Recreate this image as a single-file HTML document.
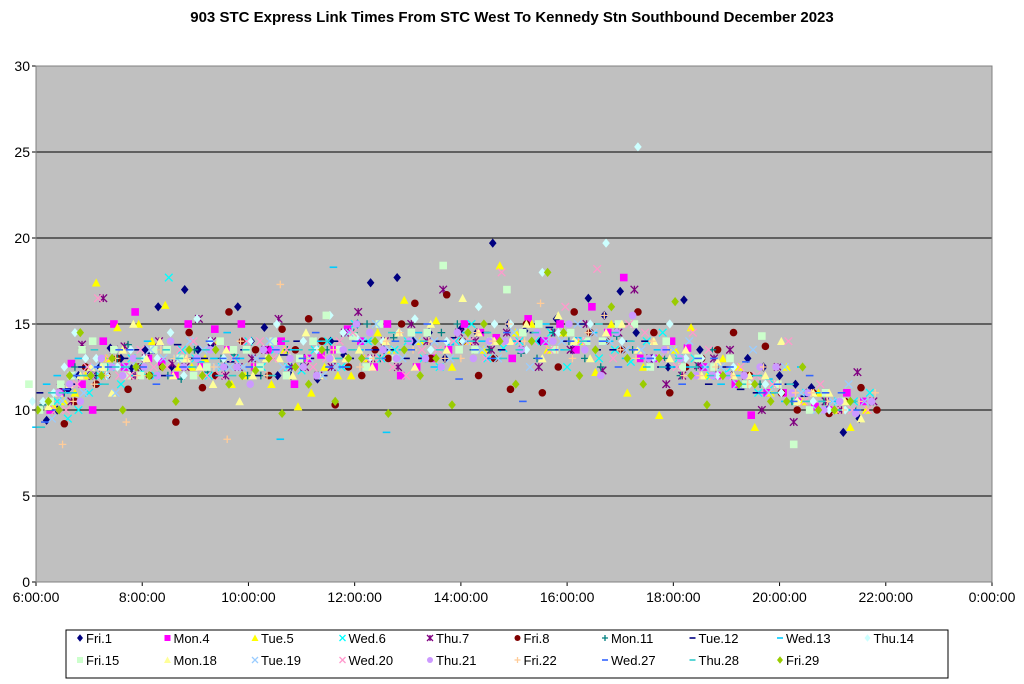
<!DOCTYPE html>
<html><head><meta charset="utf-8"><style>
body{margin:0;background:#fff;font-family:"Liberation Sans",Arial,sans-serif}
svg{display:block}
</style></head><body>
<svg id="c" width="1024" height="684" xmlns="http://www.w3.org/2000/svg">
<text x="512" y="22" text-anchor="middle" font-size="15" font-weight="bold">903 STC Express Link Times From STC West To Kennedy Stn Southbound December 2023</text>
<rect x="36" y="66" width="956" height="516" fill="#c0c0c0"/>
<g id="grid"></g><g id="marks"></g><g id="axes"></g>
<rect x="66" y="630" width="882" height="48" fill="#fff" stroke="#000" stroke-width="1"/>
<g id="legend"></g>
</svg>
<script>
const yTicks=[0,5,10,15,20,25,30];
const xTickLabels=["6:00:00","8:00:00","10:00:00","12:00:00","14:00:00","16:00:00","18:00:00","20:00:00","22:00:00","0:00:00"];
const xTickHours=[6,8,10,12,14,16,18,20,22,24];
const tripTimes=[6.2,6.6,7.0,7.4,7.8,8.3,8.8,9.3,9.8,10.3,10.8,11.3,11.8,12.3,12.8,13.4,14.0,14.6,15.2,15.8,16.4,17.0,17.6,18.2,18.8,19.4,20.0,20.6,21.2];
const tripTimesB=[6.4,6.8,7.2,7.6,8.05,8.55,9.05,9.55,10.05,10.55,11.05,11.55,12.05,12.55,13.1,13.7,14.3,14.9,15.5,16.1,16.7,17.3,17.9,18.5,19.1,19.7,20.3,20.9,21.5];
const seriesNames=["Fri.1","Mon.4","Tue.5","Wed.6","Thu.7","Fri.8","Mon.11","Tue.12","Wed.13","Thu.14","Fri.15","Mon.18","Tue.19","Wed.20","Thu.21","Fri.22","Wed.27","Thu.28","Fri.29"];
const offsetsMin=[0,4,8,12,16,20,-4,-8,-12,-16,-20,2,6,10,14,18,-2,-6,-10];
const v0=[9.4,11.2,12.0,13.6,12.4,16.0,17.0,13.8,16.0,14.8,12.0,11.8,13.2,17.4,17.7,14.5,14.7,19.7,14.6,15.3,16.5,16.9,13.0,16.4,12.5,13.0,12.0,11.3,8.7];
const v1=[10.0,12.7,10.0,15.0,15.7,12.8,15.0,14.7,15.0,13.5,11.5,13.2,14.7,12.5,12.0,13.0,15.0,14.2,15.3,15.0,16.0,17.7,13.0,13.6,12.0,9.7,11.0,10.2,11.0];
const v2=[10.2,11.0,17.4,14.8,15.0,16.1,12.5,14.0,12.0,11.5,10.2,12.5,12.0,14.5,16.4,15.2,14.0,18.4,15.0,14.5,12.2,11.0,9.7,14.8,13.0,9.0,12.5,11.0,9.0];
const v3=[10.5,10.0,12.0,11.5,12.2,17.7,13.0,12.5,14.0,13.5,12.3,14.0,15.0,13.0,14.0,12.5,15.0,13.6,14.0,12.5,13.0,12.8,14.5,13.0,12.2,11.0,10.5,10.0,10.5];
const v4=[11.3,13.8,16.5,13.7,13.0,12.7,15.3,12.0,13.0,15.3,12.5,12.5,15.7,14.0,15.0,17.0,14.0,14.5,12.5,13.5,12.3,17.0,11.5,12.6,13.5,10.0,9.3,10.5,12.2];
const v5=[9.2,12.5,12.0,11.2,12.0,9.3,11.3,15.7,13.5,14.7,15.3,10.3,12.0,13.0,16.2,16.7,12.0,11.2,11.0,15.7,14.0,15.7,11.0,13.0,14.5,13.7,10.0,9.8,11.3];
const v6=[10.3,11.0,13.0,12.5,13.8,13.5,11.8,12.2,13.2,12.0,13.5,14.0,13.5,15.0,14.2,13.0,15.0,13.5,13.3,14.5,13.0,14.3,12.5,12.0,13.5,12.0,11.5,11.0,10.5];
const v7=[11.0,11.5,12.5,12.0,13.0,13.3,13.8,13.0,12.8,12.0,13.2,13.0,14.0,14.0,13.5,13.0,14.2,14.5,14.0,14.8,15.0,13.5,14.0,12.5,11.5,11.2,11.0,10.8,10.0];
const v8=[9.0,12.0,13.0,11.5,12.5,14.0,13.0,12.8,14.5,12.5,8.3,13.0,18.3,13.5,8.7,14.5,13.8,14.0,14.0,15.0,14.2,14.0,13.0,12.5,12.5,12.0,11.8,12.5,10.5];
const v9=[10.5,11.0,14.5,13.0,12.5,13.0,14.5,15.3,13.0,14.0,15.0,14.0,15.5,14.2,14.0,15.3,14.0,16.0,15.0,18.0,14.0,19.7,25.3,15.0,13.0,12.5,11.5,10.5,10.0];
const v10=[11.5,10.5,12.0,14.0,13.5,12.0,13.5,12.0,14.0,13.5,14.0,13.0,15.5,14.3,15.0,14.5,18.4,13.5,17.0,15.0,14.5,14.0,15.0,14.0,13.0,13.0,14.3,8.0,11.0];
const v11=[10.2,11.5,12.5,11.0,15.0,14.0,13.0,11.5,10.5,13.0,12.0,12.0,13.0,12.5,14.5,15.0,16.5,14.0,15.0,15.5,13.0,15.0,14.0,13.5,12.8,12.0,14.0,11.0,10.5];
const v12=[9.5,12.0,12.5,11.0,12.5,13.0,14.0,12.5,12.5,14.0,12.5,12.0,14.5,15.0,13.0,14.0,14.0,13.0,12.5,14.0,14.5,13.5,13.0,14.0,12.5,13.5,12.5,10.0,11.5];
const v13=[10.0,11.5,16.5,12.0,13.5,12.5,14.0,12.0,14.0,13.0,12.5,13.0,14.5,13.0,12.0,13.5,14.0,18.0,14.0,16.0,18.2,15.0,13.0,14.5,12.0,12.0,14.0,11.5,10.0];
const v14=[11.0,10.5,13.0,12.0,12.5,14.0,13.0,12.5,11.5,13.5,12.5,13.0,15.0,13.5,14.0,12.5,13.0,14.0,14.5,15.0,12.0,15.5,13.5,12.0,12.0,12.5,11.0,10.0,9.8];
const v15=[8.0,12.0,12.0,9.3,12.0,13.0,12.0,8.3,12.5,17.3,13.0,13.5,12.5,14.0,13.5,13.0,14.5,15.0,16.2,13.0,15.5,13.0,13.5,12.0,12.0,12.5,11.0,10.5,10.5];
const v16=[9.3,11.2,12.0,12.5,13.5,11.5,12.5,14.0,13.0,13.0,12.5,14.5,12.5,13.5,14.0,15.0,11.8,13.0,10.5,13.5,14.0,12.5,13.0,11.5,13.0,12.8,11.5,12.0,11.0];
const v17=[9.0,11.0,12.0,11.5,12.5,12.0,13.0,13.5,12.0,12.5,14.0,13.5,13.0,13.0,14.5,14.0,13.0,14.5,13.5,13.5,14.0,14.5,12.5,13.0,12.0,11.5,11.0,10.5,10.0];
const v18=[10.0,10.0,14.5,12.0,10.0,12.0,10.5,12.0,11.5,12.3,9.8,11.5,10.5,13.0,9.8,12.0,10.3,15.0,11.5,18.0,12.0,16.0,11.5,16.3,10.3,11.5,10.5,12.5,10.0];
const w0=[10.0,12.0,12.5,13.0,13.5,12.5,13.5,12.5,14.0,12.0,13.0,14.0,15.0,13.5,14.0,13.0,14.5,15.0,14.0,13.5,15.5,14.5,12.5,13.5,12.0,12.5,11.5,10.0,9.5];
const w1=[11.0,11.5,14.0,12.5,13.0,12.0,12.5,13.5,12.5,14.0,13.0,13.5,14.0,15.0,12.5,13.5,14.5,13.0,14.0,13.5,14.5,13.0,14.0,12.5,11.5,11.0,10.5,10.0,10.5];
const w2=[10.5,12.0,13.0,12.0,14.0,12.5,13.0,11.5,12.5,13.5,11.0,12.0,13.0,13.5,14.0,12.5,13.5,14.5,13.5,14.0,15.0,12.5,13.5,12.0,12.5,11.0,10.5,10.0,10.0];
const w3=[9.5,11.0,12.5,13.0,12.0,13.5,12.0,13.0,12.5,12.5,13.5,12.5,14.0,13.5,13.0,14.0,13.0,14.0,14.5,14.0,13.5,14.0,13.0,12.0,11.5,11.5,11.0,10.5,11.0];
const w4=[10.5,12.0,13.5,12.0,14.0,12.5,14.0,12.5,13.5,12.5,12.0,14.5,13.0,12.5,14.0,14.5,13.5,13.5,14.5,15.0,14.5,13.0,12.0,13.0,12.0,12.5,11.0,10.0,10.5];
const w5=[10.5,11.5,13.0,12.5,12.5,14.5,12.0,14.0,12.0,13.5,14.0,12.5,13.5,15.0,13.0,14.0,13.0,15.0,12.5,14.5,13.5,14.5,12.5,13.5,12.0,11.0,11.0,10.5,10.0];
const w6=[11.0,12.5,12.0,13.0,12.5,12.0,13.5,13.0,12.0,14.0,12.5,13.5,14.5,13.0,14.0,14.5,13.5,14.0,13.0,14.0,12.5,13.5,13.0,12.5,12.0,11.5,10.5,10.5,10.0];
const w7=[10.0,11.5,12.0,12.5,13.5,12.0,13.0,12.0,13.5,13.0,14.0,12.0,13.0,13.5,13.0,14.0,14.0,13.5,14.5,14.0,13.5,14.0,12.5,12.0,12.5,11.0,11.5,10.0,10.5];
const w8=[11.5,11.0,12.5,13.0,12.0,13.5,12.5,13.0,13.0,12.0,13.5,14.0,12.5,14.0,13.5,12.5,14.5,13.0,14.0,13.5,14.5,13.0,13.5,12.5,11.5,12.0,10.5,11.0,10.0];
const w9=[10.5,12.5,13.0,12.0,13.5,13.0,12.0,14.0,12.5,13.5,13.0,13.5,14.5,13.0,14.5,13.5,14.0,15.0,13.5,14.5,15.0,14.0,13.0,13.0,12.0,11.5,11.0,10.5,10.0];
const w10=[10.0,11.5,13.5,12.5,12.0,13.5,13.0,12.5,13.5,12.5,12.0,14.0,13.5,12.5,13.0,14.5,13.5,14.0,14.5,13.5,14.0,15.0,12.5,12.5,12.5,11.5,11.5,10.0,10.5];
const w11=[11.0,12.0,12.5,13.5,13.0,12.0,12.5,13.5,12.0,13.0,14.5,13.0,13.5,14.0,12.5,13.5,14.5,14.0,13.0,14.0,14.5,13.5,13.0,12.0,12.0,12.0,10.5,11.0,9.5];
const w12=[10.5,11.0,12.0,12.5,13.5,13.0,13.5,12.5,13.0,12.5,13.0,12.5,14.0,13.5,14.0,13.0,13.5,14.5,14.0,15.0,14.0,13.5,13.5,12.5,11.5,11.0,11.0,10.5,10.5];
const w13=[10.0,12.5,13.0,12.0,12.5,13.5,12.0,13.0,14.0,13.5,12.5,14.0,13.0,12.5,13.5,14.0,13.0,14.0,13.5,14.0,13.0,14.5,12.5,13.5,12.5,11.5,10.5,10.0,10.0];
const w14=[11.5,12.0,12.5,13.0,12.0,12.5,13.5,12.5,13.5,13.0,12.0,13.5,14.5,13.0,13.0,14.5,14.0,13.5,14.0,13.5,14.5,13.0,13.0,12.0,12.0,12.5,11.0,10.5,10.5];
const w15=[10.5,11.5,13.0,12.0,13.5,13.0,12.5,14.0,12.0,12.5,13.5,13.0,13.0,14.5,14.0,13.0,14.0,14.0,13.5,14.5,13.5,14.0,12.0,12.5,11.5,11.5,11.0,10.0,11.0];
const w16=[10.0,12.0,12.5,13.5,12.5,12.0,13.0,13.0,12.5,13.5,13.0,12.5,14.0,13.0,13.5,14.0,13.5,14.5,13.0,14.0,14.0,13.5,13.5,13.0,12.5,11.0,10.5,11.0,10.0];
const w17=[11.0,11.0,13.5,12.5,13.0,13.5,12.5,12.0,13.5,12.0,13.5,14.0,13.5,13.0,14.0,13.5,14.0,13.0,14.5,13.5,15.0,14.0,12.5,12.5,12.0,12.0,11.5,10.5,10.5];
const w18=[10.5,12.0,12.0,13.0,12.5,12.5,13.5,13.5,12.0,13.0,12.5,13.5,13.0,14.0,13.5,13.0,14.5,14.0,14.0,14.5,13.5,13.0,13.0,12.0,12.0,11.5,10.5,10.0,10.5];
const seriesValues=[v0,v1,v2,v3,v4,v5,v6,v7,v8,v9,v10,v11,v12,v13,v14,v15,v16,v17,v18];
const seriesValuesB=[w0,w1,w2,w3,w4,w5,w6,w7,w8,w9,w10,w11,w12,w13,w14,w15,w16,w17,w18];
const colors=["#000080","#ff00ff","#ffff00","#00ffff","#800080","#800000","#008080","#000080","#00ccff","#ccffff","#ccffcc","#ffff99","#99ccff","#ff99cc","#cc99ff","#ffcc99","#3366ff","#33cccc","#99cc00"];
const shapes=["diamond","square","triangle","x","star","circle","plus","dash","dash","diamond","square","triangle","x","x","circle","plus","dash","dash","diamond"];

const NS="http://www.w3.org/2000/svg";
const X0=36,X1=992,Y0=582,Y1=66;
const xs=h=>X0+(h-6)/18*(X1-X0);
const ys=v=>Y0-v/30*(Y0-Y1);
function mk(tag,attrs,parent){const e=document.createElementNS(NS,tag);for(const k in attrs)e.setAttribute(k,attrs[k]);parent.appendChild(e);return e;}
const grid=document.getElementById('grid'),axes=document.getElementById('axes'),marks=document.getElementById('marks'),leg=document.getElementById('legend');
yTicks.forEach(t=>{
  if(t>0){const g=mk('line',{x1:X0,x2:X1,y1:ys(t),y2:ys(t),stroke:'#000','stroke-width':1},grid);
  
  }
  mk('line',{x1:X0-4,x2:X0,y1:ys(t),y2:ys(t),stroke:'#000'},axes);
  const l=mk('text',{x:X0-6,y:ys(t)+5,'text-anchor':'end','font-size':14},axes);l.textContent=t;
  
  
});
xTickHours.forEach((h,i)=>{
  mk('line',{x1:xs(h),x2:xs(h),y1:Y0,y2:Y0+4,stroke:'#000'},axes);
  const l=mk('text',{x:xs(h),y:Y0+20,'text-anchor':'middle','font-size':14},axes);l.textContent=xTickLabels[i];
  
  
});
mk('line',{x1:X0,x2:X0,y1:Y1,y2:Y0,stroke:'#000'},axes);
mk('line',{x1:X0,x2:X1,y1:Y0,y2:Y0,stroke:'#000'},axes);
mk('rect',{x:X0,y:Y1,width:X1-X0,height:Y0-Y1,fill:'none',stroke:'#808080'},axes);

function marker(shape,cx,cy,col,parent,s){
  s=s||3.8;let e;
  if(shape==='diamond')e=mk('polygon',{points:`${cx},${cy-s-0.8} ${cx+s},${cy} ${cx},${cy+s+0.8} ${cx-s},${cy}`,fill:col},parent);
  else if(shape==='square')e=mk('rect',{x:cx-s,y:cy-s,width:2*s,height:2*s,fill:col},parent);
  else if(shape==='triangle')e=mk('polygon',{points:`${cx},${cy-s-0.5} ${cx+s+0.5},${cy+s} ${cx-s-0.5},${cy+s}`,fill:col},parent);
  else if(shape==='circle')e=mk('circle',{cx:cx,cy:cy,r:s,fill:col},parent);
  else if(shape==='x')e=mk('path',{d:`M${cx-s},${cy-s}L${cx+s},${cy+s}M${cx-s},${cy+s}L${cx+s},${cy-s}`,stroke:col,'stroke-width':1.3,fill:'none'},parent);
  else if(shape==='star')e=mk('path',{d:`M${cx-s},${cy-s}L${cx+s},${cy+s}M${cx-s},${cy+s}L${cx+s},${cy-s}M${cx},${cy-s}L${cx},${cy+s}`,stroke:col,'stroke-width':1.3,fill:'none'},parent);
  else if(shape==='plus')e=mk('path',{d:`M${cx-s},${cy}L${cx+s},${cy}M${cx},${cy-s}L${cx},${cy+s}`,stroke:col,'stroke-width':1.3,fill:'none'},parent);
  else e=mk('line',{x1:cx-s,x2:cx+s,y1:cy,y2:cy,stroke:col,'stroke-width':1.6},parent);
  return e;
}
seriesValues.forEach((vals,si)=>{
  const g=mk('g',{},marks);
  
  
  vals.forEach((v,i)=>{
    const p=marker(shapes[si],xs(tripTimes[i]+offsetsMin[si]/60),ys(v),colors[si],g);
    
    
  });
  seriesValuesB[si].forEach((v,i)=>{
    const p=marker(shapes[si],xs(tripTimesB[i]+offsetsMin[si]/60),ys(v),colors[si],g);
    
    
  });
});
seriesNames.forEach((n,i)=>{
  const row=i<10?0:1,col=i<10?i:i-10;
  const x=80+col*87.5,y=row?664:642;
  const g=mk('g',{},leg);
  
  
  marker(shapes[i],x,y-4,colors[i],g,3);
  const t=mk('text',{x:x+6,y:y+1,'font-size':13},g);t.textContent=n;
});
</script>
</body></html>
